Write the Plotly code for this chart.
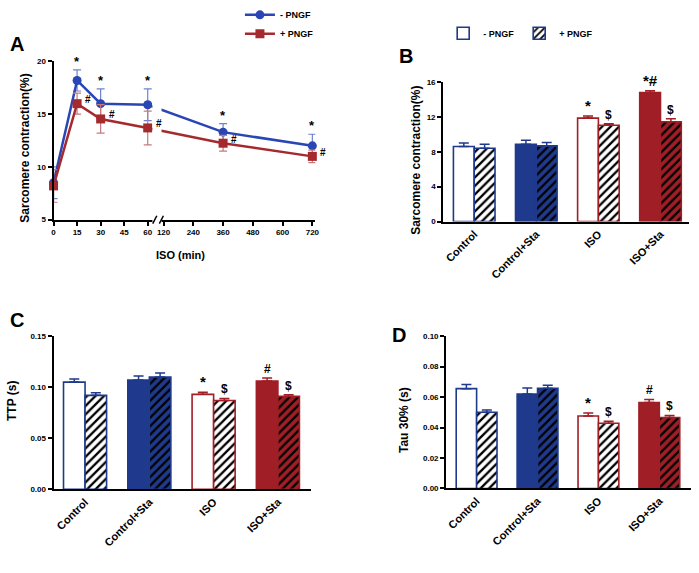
import plotly.graph_objects as go

W, H = 699, 573
def PX(p): return p / W
def PY(p): return 1 - p / H

FONT = "Liberation Sans, Arial, sans-serif"
NAVY = "#1f3a8c"
RED = "#a01e26"
BLUE_LINE = "#2a46b4"
RED_LINE = "#a52a2e"
BLUE_ERR = "#6f82cc"
RED_ERR = "#c77a7a"

# ---------------- Panel A data ----------------
time_min = [0, 15, 30, 60, 360, 720]
a_minus = [8.5, 18.2, 16.0, 15.9, 13.3, 12.0]
a_minus_err = [1.5, 1.0, 1.4, 1.5, 0.8, 1.1]
a_plus = [8.2, 16.0, 14.55, 13.7, 12.25, 11.0]
a_plus_err = [1.55, 1.0, 1.35, 1.6, 0.75, 0.6]
a_star = ["", "*", "*", "*", "*", "*"]
a_hash = ["", "#", "#", "#", "#", "#"]
a_tick_min = [0, 15, 30, 45, 60, 120, 240, 360, 480, 600, 720]
a_yticks = [5, 10, 15, 20]

# broken x-axis scale: 0-60 linear, gap, 120-720 compressed
def xs(t):
    return t if t <= 60 else 70.1 + (t - 120) * 0.158

# ---------------- Bar panels data ----------------
categories = ["Control", "Control+Sta", "ISO", "ISO+Sta"]
cat_colors = [NAVY, NAVY, RED, RED]
cat_filled = [False, True, False, True]

b_minus = [8.6, 8.85, 11.85, 14.78]
b_minus_err = [0.4, 0.45, 0.25, 0.2]
b_plus = [8.4, 8.67, 11.04, 11.44]
b_plus_err = [0.45, 0.4, 0.15, 0.35]
b_minus_sig = ["", "", "*", "*#"]
b_plus_sig = ["", "", "$", "$"]

c_minus = [0.105, 0.107, 0.093, 0.106]
c_minus_err = [0.003, 0.004, 0.002, 0.003]
c_plus = [0.092, 0.110, 0.087, 0.091]
c_plus_err = [0.0025, 0.004, 0.002, 0.0015]
c_minus_sig = ["", "", "*", "#"]
c_plus_sig = ["", "", "$", "$"]

d_minus = [0.0655, 0.062, 0.0475, 0.0564]
d_minus_err = [0.0027, 0.004, 0.002, 0.002]
d_plus = [0.050, 0.0657, 0.0428, 0.0466]
d_plus_err = [0.0015, 0.002, 0.0013, 0.0013]
d_minus_sig = ["", "", "*", "#"]
d_plus_sig = ["", "", "$", "$"]

fig = go.Figure()
annotations = []
shapes = []

# ---------------- Panel A ----------------
ax = [xs(t) for t in time_min]
fig.add_trace(go.Scatter(
    x=ax, y=a_minus, mode="lines+markers", name="- PNGF",
    line=dict(color=BLUE_LINE, width=2.5),
    marker=dict(symbol="circle", size=9, color=BLUE_LINE),
    error_y=dict(type="data", array=a_minus_err, color=BLUE_ERR, thickness=1.2, width=4),
    cliponaxis=False, xaxis="x", yaxis="y", legend="legend"))
fig.add_trace(go.Scatter(
    x=ax, y=a_plus, mode="lines+markers", name="+ PNGF",
    line=dict(color=RED_LINE, width=2.5),
    marker=dict(symbol="square", size=9, color=RED_LINE),
    error_y=dict(type="data", array=a_plus_err, color=RED_ERR, thickness=1.2, width=4),
    cliponaxis=False, xaxis="x", yaxis="y", legend="legend"))

for xv, yv, e, s in zip(ax, a_minus, a_minus_err, a_star):
    if s:
        annotations.append(dict(x=xv, y=yv + e, xref="x", yref="y", text=s, showarrow=False,
                                yanchor="bottom", yshift=-1,
                                font=dict(family=FONT, size=13, color="black", weight="bold")))
for xv, yv, s in zip(ax, a_plus, a_hash):
    if s:
        annotations.append(dict(x=xv, y=yv, xref="x", yref="y", text=s, showarrow=False,
                                xanchor="left", yanchor="middle", xshift=6, yshift=4,
                                font=dict(family=FONT, size=10, color="black", weight="bold")))

# axis break: white band + slashes
shapes.append(dict(type="rect", xref="x", yref="paper", x0=63.0, x1=68.8,
                   y0=PY(222), y1=PY(48), fillcolor="white", line=dict(width=0), layer="above"))
for x0 in [63.2, 67.4]:
    shapes.append(dict(type="line", xref="x", yref="paper", x0=x0, x1=x0 + 2.6,
                       y0=PY(218), y1=PY(210), line=dict(color="black", width=1.5), layer="above"))

# ---------------- bar panel builder ----------------
def bar_panel(xa, ya, minus, minus_err, plus, plus_err, msig, psig, legend_name, show_leg):
    for i in range(len(categories)):
        col = cat_colors[i]
        fill = col if cat_filled[i] else "white"
        fig.add_trace(go.Bar(
            x=[i], y=[minus[i]], name="- PNGF",
            offsetgroup="m", xaxis=xa, yaxis=ya, legend=legend_name,
            showlegend=(show_leg and i == 0),
            marker=dict(color=fill, line=dict(color=col, width=1.6)),
            error_y=dict(type="data", array=[minus_err[i]], arrayminus=[0],
                         symmetric=False, color=col, thickness=1.5, width=5)))
        fig.add_trace(go.Bar(
            x=[i], y=[plus[i]], name="+ PNGF",
            offsetgroup="p", xaxis=xa, yaxis=ya, legend=legend_name,
            showlegend=(show_leg and i == 0),
            marker=dict(color=fill, line=dict(color=col, width=1.6),
                        pattern=dict(shape="/", fgcolor="black", bgcolor=fill,
                                     size=6, solidity=0.38, fillmode="replace")),
            error_y=dict(type="data", array=[plus_err[i]], arrayminus=[0],
                         symmetric=False, color=col, thickness=1.5, width=5)))
    for i in range(len(categories)):
        for off, vals, errs, sig in [(-0.168, minus, minus_err, msig), (0.168, plus, plus_err, psig)]:
            if sig[i]:
                size = 15 if "*" in sig[i] else 12
                annotations.append(dict(x=i + off, y=vals[i] + errs[i], xref=xa, yref=ya,
                                        text=sig[i], showarrow=False, yanchor="bottom", yshift=0,
                                        font=dict(family=FONT, size=size, color="black", weight="bold")))

bar_panel("x2", "y2", b_minus, b_minus_err, b_plus, b_plus_err, b_minus_sig, b_plus_sig, "legend2", True)
bar_panel("x3", "y3", c_minus, c_minus_err, c_plus, c_plus_err, c_minus_sig, c_plus_sig, "legend2", False)
bar_panel("x4", "y4", d_minus, d_minus_err, d_plus, d_plus_err, d_minus_sig, d_plus_sig, "legend2", False)

# ---------------- axes ----------------
tickfont = dict(family=FONT, size=8, color="black", weight="bold")
catfont = dict(family=FONT, size=11, color="black", weight="bold")
yax_common = dict(showline=True, linecolor="black", linewidth=2, ticks="outside", ticklen=4,
                  tickwidth=1.5, tickcolor="black", showgrid=False, zeroline=False,
                  tickfont=tickfont)
xbar_common = dict(showline=True, linecolor="black", linewidth=2, ticks="", showgrid=False,
                   zeroline=False, tickmode="array", tickvals=list(range(len(categories))),
                   ticktext=categories, tickangle=-45, tickfont=catfont)

layout = dict(
    width=W, height=H, margin=dict(l=0, r=0, t=0, b=0),
    paper_bgcolor="white", plot_bgcolor="white",
    barmode="group", bargap=0.33, bargroupgap=0,
    xaxis=dict(domain=[PX(52), PX(316)], range=[0, (316 - 52) / 1.583], anchor="y",
               showline=True, linecolor="black", linewidth=2, ticks="outside", ticklen=4,
               tickwidth=1.5, tickcolor="black", showgrid=False, zeroline=False,
               tickmode="array", tickvals=[xs(t) for t in a_tick_min],
               ticktext=[str(t) for t in a_tick_min], tickfont=tickfont, tickangle=0),
    yaxis=dict(domain=[PY(214), PY(51)], range=[5, 20], anchor="x",
               tickmode="array", tickvals=a_yticks, **yax_common),
    xaxis2=dict(domain=[PX(445), PX(693)], range=[-0.5, 3.46], anchor="y2", **xbar_common),
    yaxis2=dict(domain=[PY(216), PY(72)], range=[0, 16], anchor="x2",
                tickmode="array", tickvals=[0, 4, 8, 12, 16], **yax_common),
    xaxis3=dict(domain=[PX(52), PX(312)], range=[-0.49, 3.52], anchor="y3", **xbar_common),
    yaxis3=dict(domain=[PY(492), PY(334)], range=[0, 0.15], anchor="x3",
                tickmode="array", tickvals=[0, 0.05, 0.10, 0.15], tickformat=".2f", **yax_common),
    xaxis4=dict(domain=[PX(448), PX(695)], range=[-0.5, 3.52], anchor="y4", **xbar_common),
    yaxis4=dict(domain=[PY(491), PY(334)], range=[0, 0.10], anchor="x4",
                tickmode="array", tickvals=[0, 0.02, 0.04, 0.06, 0.08, 0.10], tickformat=".2f",
                **yax_common),
    legend=dict(x=PX(240), y=PY(-12), xanchor="left", yanchor="top", bgcolor="rgba(0,0,0,0)",
                font=dict(family=FONT, size=9, color="black", weight="bold"),
                itemwidth=30, tracegroupgap=0),
    legend2=dict(x=PX(445), y=PY(7), xanchor="left", yanchor="top", orientation="h",
                 bgcolor="rgba(0,0,0,0)",
                 font=dict(family=FONT, size=9, color="black", weight="bold")),
    showlegend=True,
)

def lab(text, x, y, size=12, angle=0):
    annotations.append(dict(x=PX(x), y=PY(y), xref="paper", yref="paper", text=text,
                            showarrow=False, textangle=angle, xanchor="center", yanchor="middle",
                            font=dict(family=FONT, size=size, color="black", weight="bold")))

lab("A", 15, 33, 20)
lab("B", 408, 45, 20)
lab("C", 15, 317, 20)
lab("D", 400, 333, 20)
lab("Sarcomere contraction(%)", 23, 140, 12, -90)
lab("Sarcomere contraction(%)", 418, 153, 12, -90)
lab("TTP (s)", 10, 401, 12, -90)
lab("Tau 30% (s)", 405, 421, 12, -90)
lab("ISO (min)", 180, 250, 11)

layout["annotations"] = annotations
layout["shapes"] = shapes
fig.update_layout(**layout)
# remove the default page margin so the figure sits at the window's top-left corner
fig.write_html("out.html", config={"displayModeBar": False},
               post_script="document.body.style.margin='0';document.body.style.padding='0';")
